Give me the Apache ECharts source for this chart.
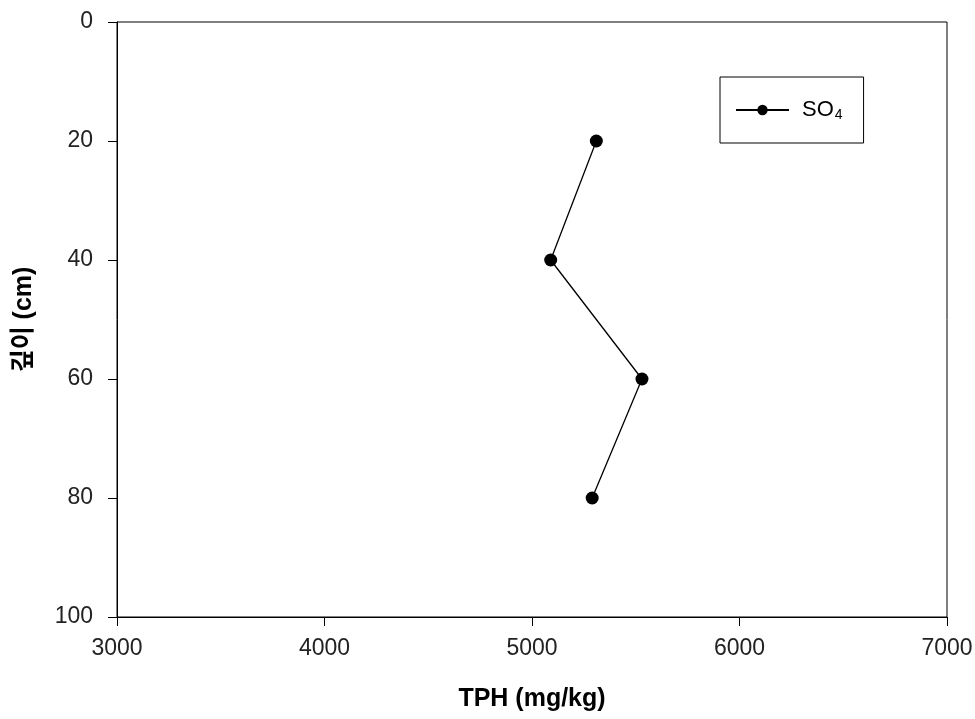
<!DOCTYPE html>
<html>
<head>
<meta charset="utf-8">
<script src="https://cdn.jsdelivr.net/npm/echarts@6/dist/echarts.min.js"></script>
<style>
  html, body { margin: 0; padding: 0; background: #fff; }
  #chart { width: 975px; height: 719px; }
</style>
</head>
<body>
<div id="chart"></div>
<script>
// Depth profile of TPH concentration
const depths = [20, 40, 60, 80];            // 깊이 (cm)
const tphSO4 = [5310, 5090, 5530, 5290];    // TPH (mg/kg), SO4 treatment
const xTicks = [3000, 4000, 5000, 6000, 7000];
const yTicks = [0, 20, 40, 60, 80, 100];

const tickFont = '"Liberation Sans", Arial, sans-serif';
const titleFont = '"Liberation Sans", "Noto Sans CJK KR", Arial, sans-serif';

const chart = echarts.init(document.getElementById('chart'), null, { renderer: 'canvas' });

chart.setOption({
  backgroundColor: '#ffffff',
  animation: false,
  grid: {
    left: 117, top: 22, right: 28, bottom: 102,
    outerBoundsMode: 'none',
    containLabel: false,
    show: true, borderColor: '#000', borderWidth: 1, backgroundColor: 'transparent'
  },
  legend: {
    left: 720, top: 77,
    padding: [22, 21, 21, 15],
    borderColor: '#000', borderWidth: 1,
    itemWidth: 53, itemHeight: 13,
    data: [{ name: 'SO4' }],
    formatter: () => 'SO{sub|4}',
    textStyle: {
      fontFamily: titleFont, fontSize: 22, color: '#000', padding: [0, 0, 0, 8],
      rich: {
        sub: { fontFamily: titleFont, fontSize: 14, color: '#000', padding: [10, 0, 0, 1] }
      }
    }
  },
  xAxis: {
    type: 'value',
    min: xTicks[0], max: xTicks[xTicks.length - 1], interval: 1000,
    position: 'bottom',
    name: 'TPH (mg/kg)',
    nameLocation: 'middle',
    nameGap: 70,
    nameTextStyle: { fontFamily: titleFont, fontWeight: 'bold', fontSize: 25, color: '#000' },
    axisLine: { show: true, onZero: false, lineStyle: { color: '#000', width: 1 } },
    axisTick: { show: true, inside: false, length: 9, lineStyle: { color: '#000' } },
    axisLabel: {
      margin: 20, fontFamily: tickFont, fontSize: 23, color: '#222',
      formatter: v => String(v)
    },
    splitLine: { show: false }
  },
  yAxis: {
    type: 'value',
    inverse: true,
    min: yTicks[0], max: yTicks[yTicks.length - 1], interval: 20,
    name: '깊이 (cm)',
    nameLocation: 'middle',
    nameGap: 80,
    nameRotate: 90,
    nameTextStyle: { fontFamily: titleFont, fontWeight: 'bold', fontSize: 25, color: '#000' },
    axisLine: { show: true, onZero: false, lineStyle: { color: '#000', width: 1 } },
    axisTick: { show: true, inside: false, length: 9, lineStyle: { color: '#000' } },
    axisLabel: {
      margin: 24, fontFamily: tickFont, fontSize: 23, color: '#222',
      formatter: v => String(v)
    },
    splitLine: { show: false }
  },
  series: [{
    name: 'SO4',
    type: 'line',
    data: tphSO4.map((v, i) => [v, depths[i]]),
    symbol: 'circle',
    symbolSize: 13,
    lineStyle: { color: '#000', width: 1.3 },
    itemStyle: { color: '#000' }
  }]
});
</script>
</body>
</html>
